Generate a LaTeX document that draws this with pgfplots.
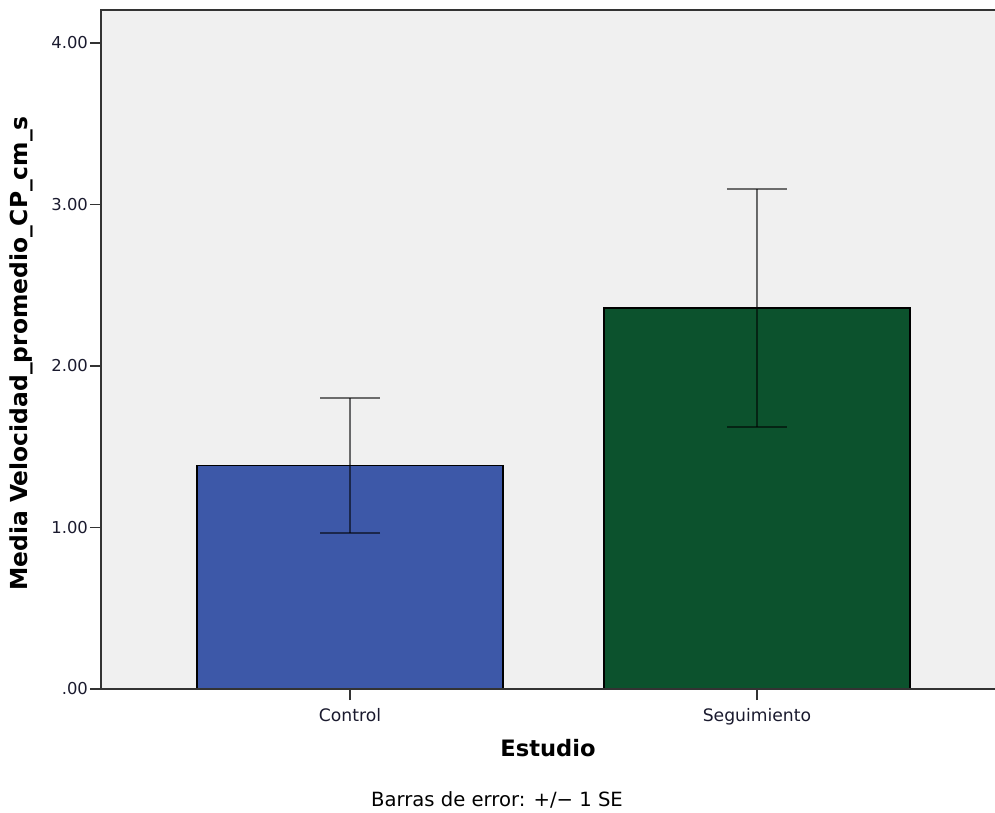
\documentclass[border=0pt]{standalone}
\usepackage{fontspec}
\setmainfont{DejaVu Sans}
\usepackage{pgfplots}
\pgfplotsset{compat=1.18}

\definecolor{barblue}{HTML}{3D58A8}
\definecolor{bargreen}{HTML}{0C522D}
\definecolor{plotbg}{HTML}{F0F0F0}
\definecolor{ticktext}{HTML}{1A1A2E}

\begin{document}
\begin{tikzpicture}
\useasboundingbox (-50.5pt,-62pt) rectangle (447pt,344.5pt);
\begin{axis}[
  scale only axis,
  width=447pt, height=339.5pt,
  xmin=-0.612, xmax=1.585,
  ymin=0, ymax=4.204,
  axis background/.style={fill=plotbg},
  axis line style={draw=none},
  xtick={0,1}, xticklabels={Control,Seguimiento},
  ytick={0,1,2,3,4}, yticklabels={.00,1.00,2.00,3.00,4.00},
  tick align=outside,
  major tick length=5.5pt,
  tick style={line width=0.9pt, color=black!80},
  xtick pos=bottom, ytick pos=left,
  ticklabel style={text=ticktext},
  yticklabel style={font=\fontsize{8.2}{9}\selectfont, xshift=2.5pt},
  xticklabel style={font=\fontsize{8.6}{10}\selectfont, yshift=-0.5pt},
  xlabel={\textbf{Estudio}},
  xlabel style={font=\fontsize{11.3}{13}\selectfont, yshift=-0.5pt},
  ylabel={\textbf{Media Velocidad\_promedio\_CP\_cm\_s}},
  every axis y label/.style={at={(rel axis cs:0,0.5)}, rotate=90, anchor=center,
    yshift=40pt, xshift=-2pt, font=\fontsize{11.7}{13}\selectfont},
  clip=false,
]
\addplot[
  ybar, bar width=153pt, draw=black, line width=0.7pt,
  fill=barblue,
  error bars/.cd, y dir=both, y explicit,
  error bar style={draw=black, opacity=0.55, line width=1pt},
  error mark options={rotate=90, mark size=15pt, line width=1pt, draw=black, opacity=0.55},
] coordinates {(0,1.383) +- (0,0.418)};
\addplot[
  ybar, bar width=153pt, draw=black, line width=0.7pt,
  fill=bargreen,
  error bars/.cd, y dir=both, y explicit,
  error bar style={draw=black, opacity=0.55, line width=1pt},
  error mark options={rotate=90, mark size=15pt, line width=1pt, draw=black, opacity=0.55},
] coordinates {(1,2.36) +- (0,0.736)};
% frame: left, top and bottom edges only
\draw[line width=1pt, black!80] (rel axis cs:0,0) -- (rel axis cs:1,0);
\draw[line width=1pt, black!80] (rel axis cs:0,0) -- (rel axis cs:0,1) -- (rel axis cs:1,1);
\node[font=\fontsize{9.8}{11}\selectfont, anchor=center] at ([yshift=-55.5pt]rel axis cs:0.443,0) {Barras de error: +/− 1 SE};
\end{axis}
\end{tikzpicture}
\end{document}
